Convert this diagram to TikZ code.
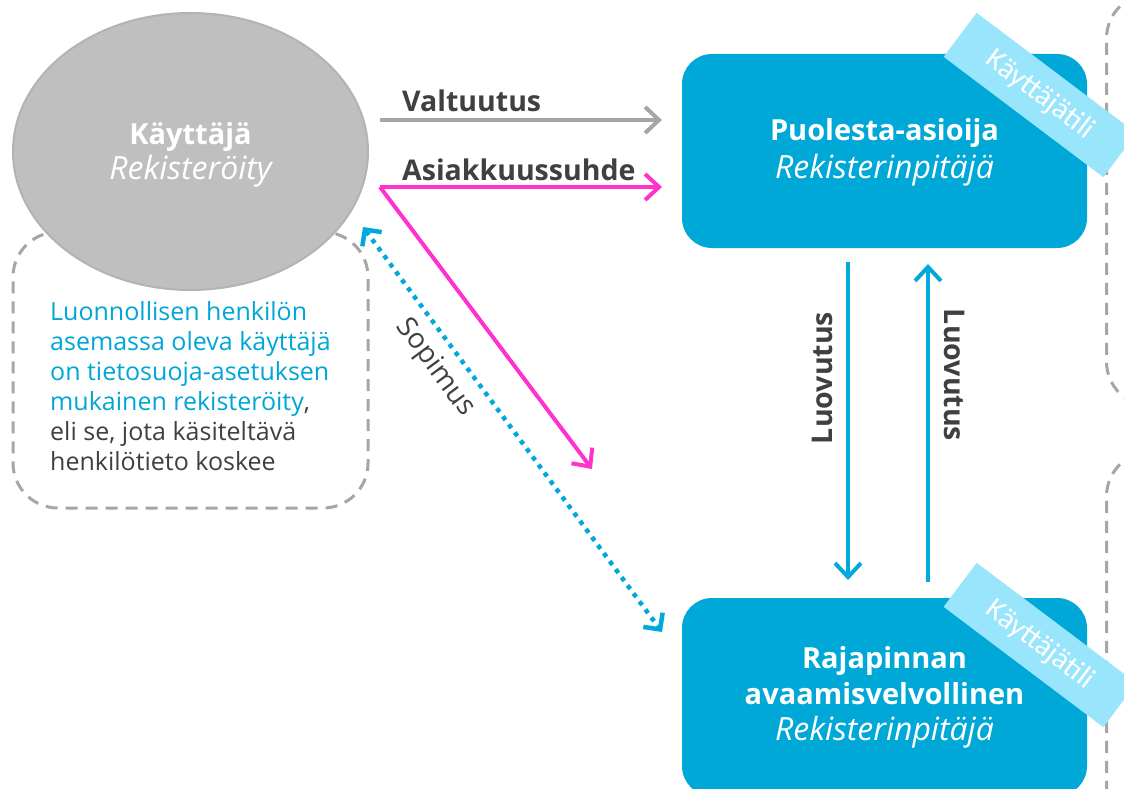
\documentclass[tikz,border=0pt]{standalone}
\usepackage{fontspec}
\setmainfont{Open Sans}
\newfontfamily\ribfont{Carlito}
\usetikzlibrary{arrows.meta,shapes.geometric}
\definecolor{boxblue}{HTML}{00A8D8}
\definecolor{arrblue}{HTML}{00A9DB}
\definecolor{ribblue}{HTML}{99E5FC}
\definecolor{arrgray}{HTML}{A6A6A6}
\definecolor{dashgray}{HTML}{A6A6A6}
\definecolor{pinkc}{HTML}{FF33CC}
\definecolor{darktext}{HTML}{404040}
\definecolor{ellfill}{HTML}{BFBFBF}
\definecolor{elldraw}{HTML}{B3B3B3}
\definecolor{notetext}{HTML}{00A6D6}
\tikzset{
  bold28/.style={font=\fontsize{28.5}{37}\selectfont\bfseries},
  bluebox/.style={fill=boxblue, draw=none, rounded corners=30pt, text=white, align=center, inner sep=0pt},
  ribbon/.style={fill=ribblue, draw=none, text=white, inner sep=0pt, font=\ribfont\fontsize{30}{34}\selectfont},
  dashbox/.style={draw=dashgray, line width=3pt, dash pattern=on 12pt off 8pt, rounded corners=45pt, inner sep=0pt},
  chev/.style={-{Straight Barb[length=14pt,width=26pt]}},
  grayarrow/.style={draw=arrgray, line width=4pt, chev},
  pinkarrow/.style={draw=pinkc, line width=4pt, chev},
  bluearrow/.style={draw=arrblue, line width=4pt, chev},
  lbl/.style={text=darktext, inner sep=0pt},
  itl/.style={font=\fontsize{32}{37}\selectfont\itshape},
}
\begin{document}
\begin{tikzpicture}[x=1pt,y=-1pt]
\useasboundingbox[fill=white] (0,0) rectangle (1124,789);
% right partial dashed shapes
\node[dashbox, minimum width=195pt, minimum height=413pt, anchor=north west] (rt1) at (1105,-8) {};
\node[dashbox, minimum width=195pt, minimum height=450pt, anchor=north west] (rt2) at (1105,450) {};
% note box
\node[dashbox, minimum width=355pt, minimum height=276pt] (note) at (190.5,370) {};
\node[anchor=north west, inner sep=0pt, align=left, font=\fontsize{25}{30}\selectfont] (notetxt) at (50,301)
 {\textcolor{notetext}{Luonnollisen henkilön}\\
  \textcolor{notetext}{asemassa oleva käyttäjä}\\
  \textcolor{notetext}{on tietosuoja-asetuksen}\\
  \textcolor{notetext}{mukainen rekisteröity}\textcolor{darktext}{,}\\
  \textcolor{darktext}{eli se, jota käsiteltävä}\\
  \textcolor{darktext}{henkilötieto koskee}};
% user ellipse
\node[ellipse, fill=ellfill, draw=elldraw, line width=2pt, minimum width=355pt, minimum height=277pt, inner sep=0pt] (user) at (190.5,151.5) {};
\node[text=white, align=center, inner sep=0pt, font=\fontsize{29}{35}\selectfont] (usertxt) at (190.5,154.5)
 {\textbf{Käyttäjä}\\{\fontsize{32}{35}\selectfont\itshape Rekisteröity}};
% blue boxes
\node[bluebox, minimum width=405pt, minimum height=194pt] (po) at (884.5,151) {};
\node[text=white, align=center, inner sep=0pt, font=\fontsize{29}{38}\selectfont] (potxt) at (884.5,152)
 {\textbf{Puolesta-asioija}\\{\fontsize{32}{38}\selectfont\itshape Rekisterinpitäjä}};
\node[bluebox, minimum width=405pt, minimum height=198pt] (ra) at (884.5,697) {};
\node[text=white, align=center, inner sep=0pt, font=\fontsize{29}{36}\selectfont] (ratxt) at (884.5,697)
 {\textbf{Rajapinnan}\\\textbf{avaamisvelvollinen}\\{\fontsize{32}{36}\selectfont\itshape Rekisterinpitäjä}};
% ribbons
\node[ribbon, rotate=-37, minimum width=200pt, minimum height=55pt] (rib1) at (1040,95) {Käyttäjätili};
\node[ribbon, rotate=-37, minimum width=200pt, minimum height=55pt] (rib2) at (1040,645) {Käyttäjätili};
% arrow coordinates
\coordinate (vs) at (380,120);
\coordinate (ve) at (662,120);
\coordinate (as) at (380,187);
\coordinate (ae) at (662,187);
\coordinate (de) at (592,469);
\coordinate (ss) at (363,227);
\coordinate (se) at (662,632);
\coordinate (l1s) at (848,262);
\coordinate (l1e) at (848,580);
\coordinate (l2s) at (928,582);
\coordinate (l2e) at (928,264);
% arrows
\draw[grayarrow] (vs) -- (ve);
\draw[pinkarrow] (as) -- (ae);
\draw[pinkarrow] (as) -- (de);
\draw[draw=arrblue, line width=4.5pt, dash pattern=on 4.5pt off 5.5pt, {Straight Barb[length=12pt,width=24pt]}-{Straight Barb[length=12pt,width=24pt]}] (ss) -- (se);
\draw[bluearrow] (l1s) -- (l1e);
\draw[bluearrow] (l2s) -- (l2e);
% labels
\node[lbl, bold28, anchor=west] (vlab) at (402,101) {Valtuutus};
\node[lbl, bold28, anchor=west] (alab) at (402,170) {Asiakkuussuhde};
\node[lbl, font=\fontsize{28}{30}\selectfont, rotate=-53.6] (slab) at (435,368) {Sopimus};
\node[lbl, bold28, rotate=90] (l1lab) at (822,378) {Luovutus};
\node[lbl, bold28, rotate=-90] (l2lab) at (955,375) {Luovutus};
\end{tikzpicture}
\end{document}
